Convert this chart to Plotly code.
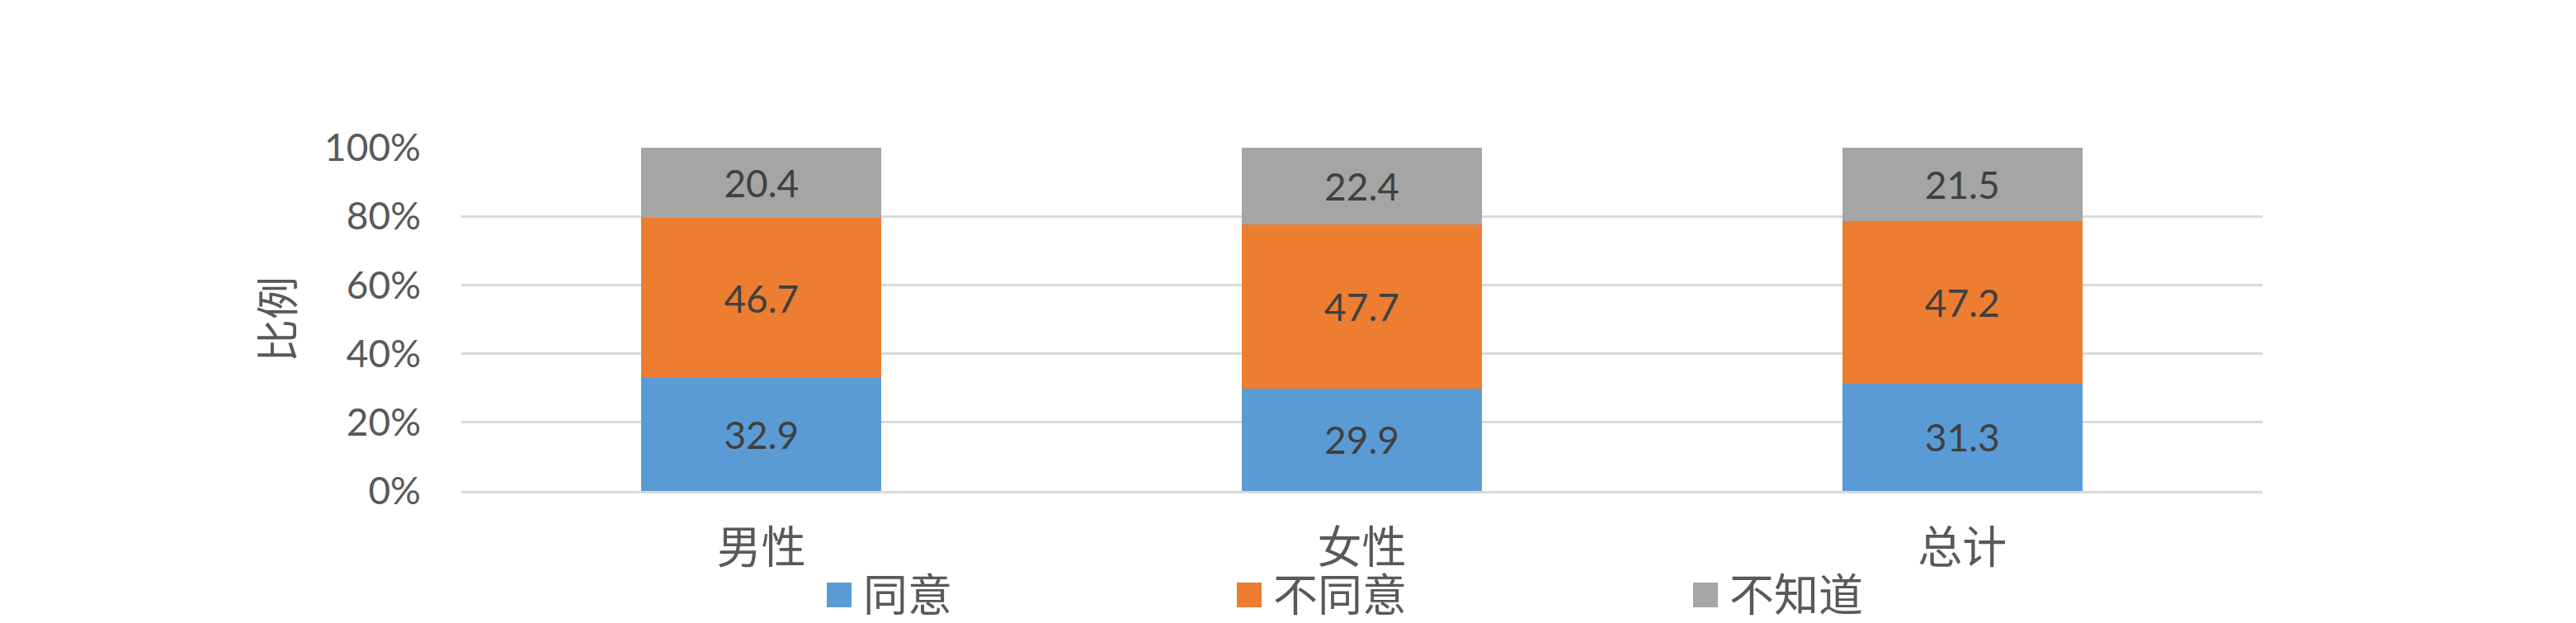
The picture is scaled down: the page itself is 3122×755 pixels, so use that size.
import plotly.graph_objects as go

# 数据（百分比）
categories = ["男性", "女性", "总计"]
agree = [32.9, 29.9, 31.3]
disagree = [46.7, 47.7, 47.2]
unknown = [20.4, 22.4, 21.5]
series_names = ["同意", "不同意", "不知道"]
y_ticks = [0, 20, 40, 60, 80, 100]

# page body has an 8px margin, so work in screenshot pixels minus 8
OFF = 8
W, H = 3122 - OFF, 755 - OFF
LEFT, RIGHT, TOP, BOTTOM = 559 - OFF, 2742 - OFF, 179 - OFF, 595 - OFF

colors = ["#5b9bd5", "#ed7d31", "#a5a5a5"]
font_fam = "Lato, 'Noto Sans CJK SC', sans-serif"
txt_col = "#595959"


def px_x(x):
    # screenshot x -> paper
    return (x - OFF - LEFT) / (RIGHT - LEFT)


def px_y(y):
    # screenshot y -> paper
    return (BOTTOM - (y - OFF)) / (BOTTOM - TOP)


fig = go.Figure()
for name, vals, col in zip(series_names, [agree, disagree, unknown], colors):
    fig.add_trace(go.Bar(
        x=categories,
        y=vals,
        name=name,
        marker=dict(color=col, line=dict(width=0)),
        text=[f"{v:.1f}" for v in vals],
        textposition="inside",
        insidetextanchor="middle",
        textangle=0,
        textfont=dict(size=46, color="#404040", family=font_fam),
        showlegend=False,
    ))

fig.update_layout(
    barmode="stack",
    bargap=0.6,
    width=W,
    height=H,
    margin=dict(l=LEFT, r=W - RIGHT, t=TOP, b=H - BOTTOM, autoexpand=False),
    plot_bgcolor="white",
    paper_bgcolor="white",
    font=dict(family=font_fam, color=txt_col),
    uniformtext=dict(minsize=40, mode="show"),
    showlegend=False,
)

fig.update_yaxes(
    range=[0, 100],
    tickvals=y_ticks,
    ticktext=[f"{t}%" for t in y_ticks],
    tickfont=dict(size=46, color=txt_col, family=font_fam),
    showgrid=True,
    gridcolor="#d9d9d9",
    gridwidth=3,
    zeroline=False,
    showline=False,
    ticks="",
    ticklabelstandoff=48,
    automargin=False,
)
fig.update_xaxes(
    tickfont=dict(size=54, color=txt_col, family=font_fam),
    showline=True,
    linecolor="#d9d9d9",
    linewidth=3,
    ticks="",
    ticklabelstandoff=20,
    automargin=False,
)

# y 轴标题
fig.add_annotation(
    text="比例",
    xref="paper", yref="paper",
    x=px_x(336), y=0.5,
    xanchor="center", yanchor="middle",
    textangle=-90,
    showarrow=False,
    font=dict(size=52, color=txt_col, family=font_fam),
)

# 图例（方块 + 文字）
legend_marker_x = [1002, 1499, 2052]
for name, col, mx in zip(series_names, colors, legend_marker_x):
    fig.add_shape(
        type="rect",
        xref="paper", yref="paper",
        x0=px_x(mx), x1=px_x(mx + 30),
        y0=px_y(736), y1=px_y(706),
        fillcolor=col, line=dict(width=0),
    )
    fig.add_annotation(
        text=name,
        xref="paper", yref="paper",
        x=px_x(mx + 42), y=px_y(720),
        xanchor="left", yanchor="middle",
        showarrow=False,
        font=dict(size=54, color=txt_col, family=font_fam),
    )

fig.write_html("out.html")
